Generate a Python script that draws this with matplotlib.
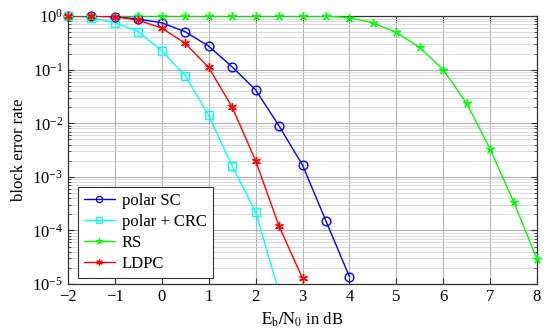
import numpy as np
import matplotlib
matplotlib.use("Agg")
import matplotlib.pyplot as plt
from matplotlib.ticker import LogLocator, NullFormatter
from matplotlib.lines import Line2D

plt.rcParams['font.family'] = ['Liberation Serif', 'DejaVu Serif']
plt.rcParams['mathtext.fontset'] = 'stix'

x_polar = [-2, -1.5, -1, -0.5, 0, 0.5, 1, 1.5, 2, 2.5, 3, 3.5, 4]
polar_sc = [1.0, 1.0, 0.98, 0.88, 0.75, 0.51, 0.275, 0.113, 0.042, 0.0089, 0.00166, 1.5e-4, 1.37e-5]

x_crc = [-2, -1.5, -1, -0.5, 0, 0.5, 1, 1.5, 2, 2.5]
polar_crc = [1.0, 0.94, 0.76, 0.51, 0.225, 0.077, 0.014, 0.0016, 2.2e-4, 7e-6]

x_rs = [-2, -1.5, -1, -0.5, 0, 0.5, 1, 1.5, 2, 2.5, 3, 3.5, 4, 4.5, 5, 5.5, 6, 6.5, 7, 7.5, 8]
rs = [1.0, 1.0, 1.0, 1.0, 1.0, 1.0, 1.0, 1.0, 1.0, 1.0, 1.0, 1.0, 0.94, 0.75, 0.5, 0.26, 0.1, 0.0235, 0.0033, 3.45e-4, 2.9e-5]

x_ldpc = [-2, -1.5, -1, -0.5, 0, 0.5, 1, 1.5, 2, 2.5, 3]
ldpc = [1.0, 1.0, 0.98, 0.84, 0.6, 0.31, 0.11, 0.02, 0.002, 1.2e-4, 1.28e-5]

xticks = [-2, -1, 0, 1, 2, 3, 4, 5, 6, 7, 8]

series = [
    ('polar SC', x_polar, polar_sc, '#0000ff', 'o', 'none'),
    ('polar + CRC', x_crc, polar_crc, '#00ffff', 's', 'none'),
    ('RS', x_rs, rs, '#00ff00', (5, 2, 0), None),
    ('LDPC', x_ldpc, ldpc, '#ff0000', (6, 2, 0), None),
]

fig = plt.figure(figsize=(5.5, 3.36), dpi=100)
ax = fig.add_axes([0.1236, 0.1548, 0.8528, 0.7972])
ax.set_yscale('log')
ax.set_xlim(-2, 8)
ax.set_ylim(1e-5, 1)

handles = []
for label, xs, ys, col, mk, mfc in series:
    xs = np.asarray(xs, float)
    ys = np.asarray(ys, float)
    ax.plot(xs, ys, color=col, lw=1, zorder=3)
    inside = ys >= 1e-5
    kw = dict(mfc=mfc) if mfc else {}
    ax.plot(xs[inside], ys[inside], ls='none', color=col, marker=mk, ms=6.3, mew=1,
            clip_on=False, zorder=4, **kw)
    handles.append(Line2D([], [], color=col, lw=1, marker=mk, ms=4.5, mew=0.9, label=label, **kw))

ax.set_xticks(xticks)
ax.set_xticklabels([f'\u2212{abs(v)}' if v < 0 else str(v) for v in xticks])
ax.yaxis.set_major_locator(LogLocator(base=10, numticks=10))
ax.yaxis.set_minor_locator(LogLocator(base=10, subs=np.arange(2, 10), numticks=20))
ax.yaxis.set_minor_formatter(NullFormatter())

ax.grid(True, which='major', color='#b3b3b3', lw=0.8)
ax.grid(True, which='minor', axis='y', color='#d3d3d3', lw=0.6)
ax.set_axisbelow(True)

ax.tick_params(which='both', direction='in', top=True, right=True, labelsize=12, colors='#333333',
               labelcolor='black')
ax.tick_params(which='major', length=4)
ax.tick_params(which='minor', length=2)
for s in ax.spines.values():
    s.set_linewidth(0.9)
    s.set_color('#333333')

ax.set_xlabel(r'$\mathrm{E_b/N_0}$ in dB', fontsize=12)
ax.set_ylabel('block error rate', fontsize=12)

leg = ax.legend(handles=handles, loc='lower left', bbox_to_anchor=(0.021, 0.022), borderaxespad=0,
                fontsize=12, fancybox=False, edgecolor='#333333', framealpha=1, borderpad=0.35,
                labelspacing=0.3, handlelength=1.9, handletextpad=0.4)
leg.get_frame().set_linewidth(0.8)

fig.savefig('out.png', dpi=100)
